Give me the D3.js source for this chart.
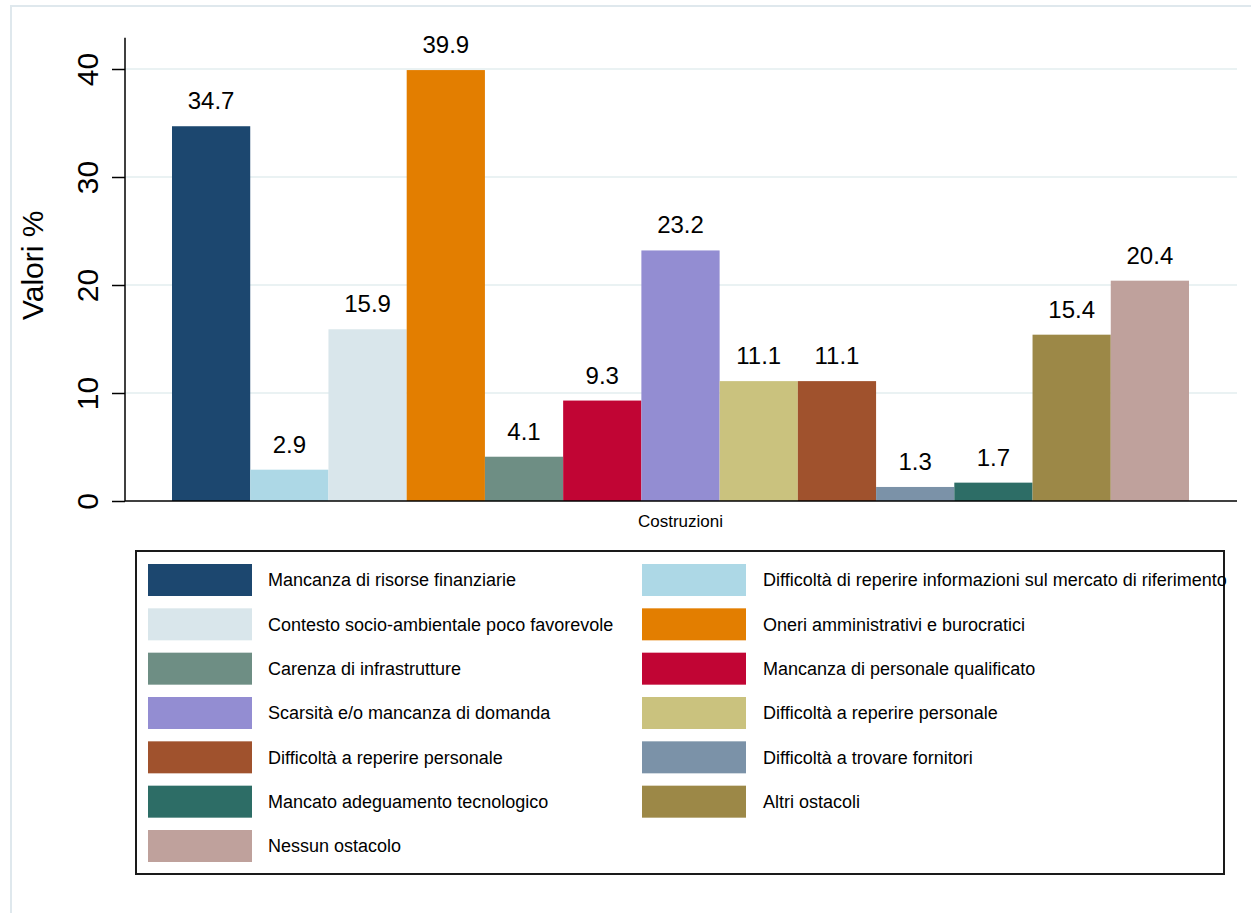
<!DOCTYPE html>
<html lang="en">
<head>
	<meta charset="UTF-8">
	<title>Costruzioni</title>
	<script src="https://cdn.jsdelivr.net/npm/d3@7/dist/d3.min.js"></script>
	<style>
		body { margin: 0; background: #fff; }
		text { font-family: Helvetica, Arial, "Liberation Sans", sans-serif; fill: #000; }
	</style>
</head>
<body>
<script>
	// data
	let categories = [
		'Mancanza di risorse finanziarie',
		'Difficoltà di reperire informazioni sul mercato di riferimento',
		'Contesto socio-ambientale poco favorevole',
		'Oneri amministrativi e burocratici',
		'Carenza di infrastrutture',
		'Mancanza di personale qualificato',
		'Scarsità e/o mancanza di domanda',
		'Difficoltà a reperire personale',
		'Difficoltà a reperire personale ',
		'Difficoltà a trovare fornitori',
		'Mancato adeguamento tecnologico',
		'Altri ostacoli',
		'Nessun ostacolo'
	]
	let values = [34.7, 2.9, 15.9, 39.9, 4.1, 9.3, 23.2, 11.1, 11.1, 1.3, 1.7, 15.4, 20.4]
	let colors = ['#1c476f', '#add8e6', '#d9e6eb', '#e37e00', '#6e8e84', '#c10534', '#938dd2',
		'#cac27e', '#a0522d', '#7b92a8', '#2d6d66', '#9c8847', '#bfa19c']
	let yTicks = [0, 10, 20, 30, 40]
	let groupLabel = 'Costruzioni'
	let yTitle = 'Valori %'

	let W = 1251, H = 913

	let svg = d3.select('body').append('svg')
		.attr('width', W)
		.attr('height', H)

	// outer frame (only top and left edges show)
	svg.append('path')
		.attr('d', 'M11,913 L11,6 L1251,6')
		.attr('fill', 'none')
		.attr('stroke', '#dfe8ed')
		.attr('stroke-width', 2)

	let y = d3.scaleLinear().domain([0, 40]).range([501, 69])
	let x = d3.scaleBand().domain(categories).range([172, 1189]).padding(0)
	let plotLeft = 125, plotRight = 1237

	// grid
	svg.append('g').selectAll('line')
		.data(yTicks.filter(d => d > 0))
		.enter().append('line')
		.attr('x1', plotLeft).attr('x2', plotRight)
		.attr('y1', d => y(d)).attr('y2', d => y(d))
		.attr('stroke', '#eaf2f3')
		.attr('stroke-width', 2)

	// bars
	svg.append('g').selectAll('rect')
		.data(values)
		.enter().append('rect')
		.attr('x', (d, i) => x(categories[i]))
		.attr('width', x.bandwidth())
		.attr('y', d => y(d))
		.attr('height', d => y(0) - y(d))
		.attr('fill', (d, i) => colors[i])

	// value labels
	svg.append('g').selectAll('text')
		.data(values)
		.enter().append('text')
		.attr('x', (d, i) => x(categories[i]) + x.bandwidth() / 2)
		.attr('y', d => y(d) - 17)
		.attr('text-anchor', 'middle')
		.style('font-size', '24px')
		.text(d => d.toFixed(1))

	// y axis
	let yAxis = d3.axisLeft(y).tickValues(yTicks).tickSize(13).tickSizeOuter(0).tickPadding(0)
	let gy = svg.append('g')
		.attr('transform', `translate(${plotLeft},0)`)
		.call(yAxis)
	gy.select('.domain').remove()
	gy.append('line')
		.attr('x1', 0).attr('x2', 0)
		.attr('y1', y(0)).attr('y2', y(42.9))
		.attr('stroke', '#000').attr('stroke-width', 1.5)
	gy.selectAll('.tick line').attr('stroke', '#000').attr('stroke-width', 1.5)
	gy.selectAll('.tick text')
		.attr('x', null).attr('dy', null)
		.attr('transform', 'translate(-27,0) rotate(-90)')
		.attr('text-anchor', 'middle')
		.style('font-size', '30px')
		.style('font-family', 'Helvetica, Arial, "Liberation Sans", sans-serif')

	// x axis line
	svg.append('line')
		.attr('x1', plotLeft).attr('x2', plotRight)
		.attr('y1', y(0)).attr('y2', y(0))
		.attr('stroke', '#000').attr('stroke-width', 1.5)

	svg.append('text')
		.attr('x', (x.range()[0] + x.range()[1]) / 2)
		.attr('y', 527)
		.attr('text-anchor', 'middle')
		.style('font-size', '17px')
		.text(groupLabel)

	svg.append('text')
		.attr('transform', `translate(43,${(y(0) + y(42.9)) / 2 - 4}) rotate(-90)`)
		.attr('text-anchor', 'middle')
		.style('font-size', '30px')
		.text(yTitle)

	// legend
	let legend = svg.append('g')
	legend.append('rect')
		.attr('x', 136).attr('y', 551)
		.attr('width', 1088).attr('height', 323)
		.attr('fill', '#fff')
		.attr('stroke', '#1a1a1a')
		.attr('stroke-width', 2)

	let rowY = d3.scaleLinear().domain([0, 6]).range([580, 846])
	let item = legend.selectAll('g.item')
		.data(categories)
		.enter().append('g')
		.attr('class', 'item')
		.attr('transform', (d, i) => `translate(${i % 2 ? 642 : 148},${rowY(Math.floor(i / 2))})`)
	item.append('rect')
		.attr('x', 0).attr('y', -16)
		.attr('width', 104).attr('height', 32)
		.attr('fill', (d, i) => colors[i])
	item.append('text')
		.attr('x', (d, i) => i % 2 ? 121 : 120)
		.attr('y', 0)
		.attr('dy', '0.35em')
		.style('font-size', '18px')
		.text(d => d.trim())
</script>
</body>
</html>
